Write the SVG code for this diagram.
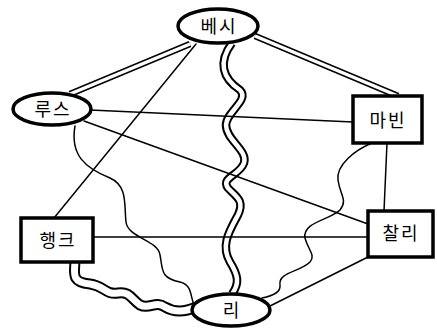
<svg xmlns="http://www.w3.org/2000/svg" width="437" height="330" viewBox="0 0 437 330">
<style>
.line{fill:none;stroke:#000;stroke-width:1.5;stroke-linecap:round}
.dblo{fill:none;stroke:#000;stroke-width:6.5;stroke-linecap:butt}
.dbli{fill:none;stroke:#fff;stroke-width:3.5;stroke-linecap:butt}
.wvo{fill:none;stroke:#000;stroke-width:8.5;stroke-linejoin:round}
.wvi{fill:none;stroke:#fff;stroke-width:4.5;stroke-linejoin:round}
.wvo2{fill:none;stroke:#000;stroke-width:11;stroke-linejoin:round}
.wvi2{fill:none;stroke:#fff;stroke-width:7;stroke-linejoin:round}
.node{fill:#fff;stroke:#000;stroke-width:3.5}
.lbl{font-family:"Noto Sans CJK KR","Noto Sans",sans-serif;font-size:18px;letter-spacing:2px;text-anchor:middle;dominant-baseline:central;fill:#000}
</style>
<rect width="437" height="330" fill="#fff"/>
<g id="connectors">
<line class="dblo" x1="190" y1="44" x2="70" y2="94"/>
<line class="dbli" x1="190" y1="44" x2="70" y2="94"/>
<line class="dblo" x1="255" y1="36" x2="398" y2="96"/>
<line class="dbli" x1="255" y1="36" x2="398" y2="96"/>
<line class="line" x1="196" y1="44" x2="54" y2="218"/>
<path class="wvo" d="M232,43 C218,62 222,78 240,90 C250,100 226,112 226,125 C226,140 248,150 244,163 C240,175 220,178 228,188 C236,197 245,200 238,215 C230,230 220,245 230,262 C238,275 240,283 232,294"/>
<path class="wvi" d="M232,43 C218,62 222,78 240,90 C250,100 226,112 226,125 C226,140 248,150 244,163 C240,175 220,178 228,188 C236,197 245,200 238,215 C230,230 220,245 230,262 C238,275 240,283 232,294"/>
<line class="line" x1="90" y1="110" x2="353" y2="122"/>
<line class="line" x1="84" y1="121" x2="368" y2="224"/>
<path class="line" d="M75,126 C70,155 85,168 110,178 C128,186 124,205 126,222 C128,238 158,240 160,255 C163,270 160,278 180,282 C192,285 190,295 194,305"/>
<line class="line" x1="93" y1="237" x2="368" y2="237"/>
<path class="wvo2" d="M75,262 C74,275 72,282 90,284 C105,286 105,295 118,293 C130,291 132,300 140,305 C150,310 155,300 165,307 C175,313 185,312 196,307"/>
<path class="wvi2" d="M75,262 C74,275 72,282 90,284 C105,286 105,295 118,293 C130,291 132,300 140,305 C150,310 155,300 165,307 C175,313 185,312 196,307"/>
<line class="line" x1="387" y1="143" x2="384" y2="211"/>
<path class="line" d="M372,143 C355,150 336,165 338,180 C340,195 348,200 340,210 C330,220 302,222 305,238 C308,250 316,255 310,262 C300,272 278,272 280,285 C281,292 272,296 262,298"/>
<line class="line" x1="368" y1="257" x2="266" y2="308"/>
</g>
<g id="node-besi"><ellipse class="node" cx="218" cy="26" rx="40" ry="17"/><text class="lbl" x="219" y="25">베시</text></g>
<g id="node-ruth"><ellipse class="node" cx="52" cy="109" rx="39" ry="16"/><text class="lbl" x="53" y="108">루스</text></g>
<g id="node-marvin"><rect class="node" x="353" y="96" width="69" height="47"/><text class="lbl" x="388" y="119">마빈</text></g>
<g id="node-hank"><rect class="node" x="21" y="218" width="72" height="44"/><text class="lbl" x="58" y="239">행크</text></g>
<g id="node-charlie"><rect class="node" x="368" y="211" width="65" height="46"/><text class="lbl" x="401" y="232">찰리</text></g>
<g id="node-ri"><ellipse class="node" cx="231" cy="310" rx="39" ry="16"/><text class="lbl" x="232" y="309">리</text></g>
</svg>
